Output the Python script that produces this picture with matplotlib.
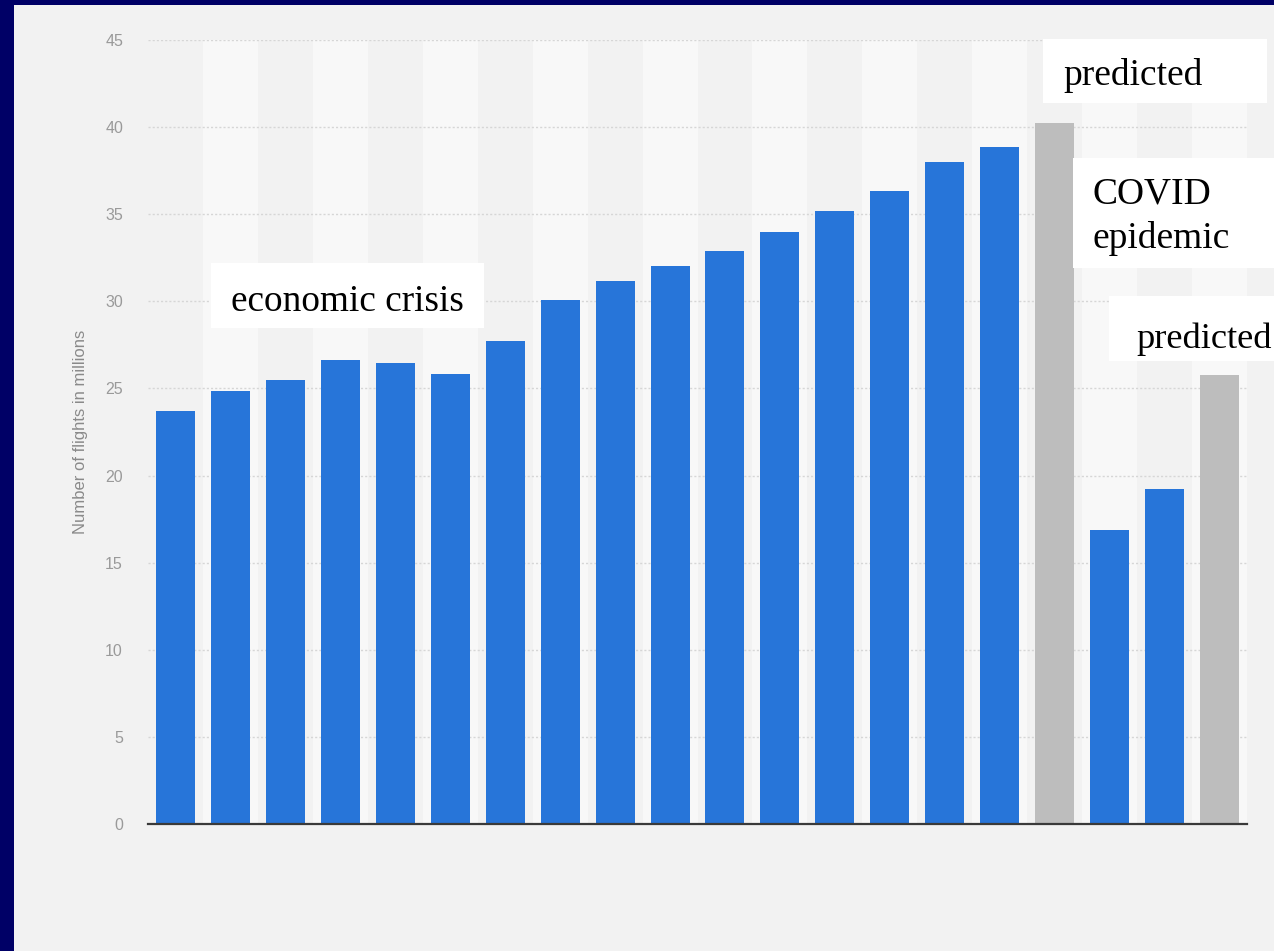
import matplotlib
matplotlib.use("Agg")
import matplotlib.pyplot as plt
from matplotlib.patches import Rectangle

# ---- data ----
categories = ["2004", "2005", "2006", "2007", "2008", "2009", "2010", "2011",
              "2012", "2013", "2014", "2015", "2016", "2017", "2018", "2019",
              "2020*", "2020", "2021", "2022*"]
flights = [23.7, 24.87, 25.5, 26.65, 26.45, 25.85, 27.75, 30.1,
           31.15, 32.0, 32.9, 33.98, 35.17, 36.34, 38.0, 38.88,
           40.22, 16.88, 19.25, 25.75]
predicted = [False] * 16 + [True, False, False, True]
y_ticks = [0, 5, 10, 15, 20, 25, 30, 35, 40, 45]
y_label = "Number of flights in millions"

W, H = 1274, 951
BG = "#f2f2f2"
BLUE = "#2775d9"
GRAY = "#bdbdbd"
NAVY = "#000066"

fig = plt.figure(figsize=(W / 100, H / 100), dpi=100, facecolor=BG)

def fx(px):
    return px / W

def fy(py):
    return 1 - py / H

# navy frame on top and left
fig.patches.append(Rectangle((0, fy(5)), 1, 5 / H, transform=fig.transFigure,
                             facecolor=NAVY, edgecolor="none", zorder=0))
fig.patches.append(Rectangle((0, 0), fx(14), 1, transform=fig.transFigure,
                             facecolor=NAVY, edgecolor="none", zorder=0))

ax = fig.add_axes([fx(148), fy(824), fx(1247) - fx(148), fy(40) - fy(824)])
ax.set_facecolor(BG)

x = list(range(len(categories)))
# alternating column bands
for i in x:
    if i % 2 == 1:
        ax.axvspan(i - 0.5, i + 0.5, color="#f8f8f8", zorder=0, lw=0)

colors = [GRAY if p else BLUE for p in predicted]
ax.bar(x, flights, width=0.71, color=colors, zorder=3, linewidth=0)

ax.set_xlim(-0.5, len(categories) - 0.5)
ax.set_ylim(0, 45)
ax.set_yticks(y_ticks)
ax.set_yticklabels([str(t) for t in y_ticks])
ax.set_xticks(x)
ax.set_xticklabels([])
ax.tick_params(axis="x", length=0)
ax.tick_params(axis="y", length=0, pad=18, labelsize=11.5, labelcolor="#9a9a9a")
for lab in ax.get_yticklabels():
    lab.set_fontfamily("Liberation Sans")

ax.yaxis.grid(True, linestyle=(0, (1.5, 1.5)), color="#d6d6d6", lw=1, zorder=1)
ax.set_axisbelow(False)
for gl in ax.yaxis.get_gridlines():
    gl.set_zorder(1)
for s in ["top", "right", "left"]:
    ax.spines[s].set_visible(False)
ax.spines["bottom"].set_color("#3a3a3a")
ax.spines["bottom"].set_linewidth(1.6)
ax.spines["bottom"].set_zorder(4)

fig.text(fx(81), fy(432), y_label, rotation=90, ha="center", va="center",
         fontsize=12, color="#8a8a8a", family="Liberation Sans")

# annotation boxes (pixel geometry): box corners, then text lines (x, baseline, text, size)
boxes = [
    ((211, 263, 484, 328), [(231, 311, "economic crisis", 26.8)]),
    ((1043, 39, 1267, 103), [(1063, 85, "predicted", 27)]),
    ((1073, 158, 1290, 268), [(1092, 204, "COVID", 27), (1092, 248, "epidemic", 27)]),
    ((1109, 296, 1290, 361), [(1136, 348, "predicted", 26.2)]),
]
for (x0, y0, x1, y1), lines in boxes:
    fig.patches.append(Rectangle((fx(x0), fy(y1)), fx(x1) - fx(x0), fy(y0) - fy(y1),
                                 transform=fig.transFigure, facecolor="white",
                                 edgecolor="none", zorder=10))
    for tx, ty, txt, fs in lines:
        fig.text(fx(tx), fy(ty), txt, ha="left", va="baseline", fontsize=fs,
                 family="Liberation Serif", color="black", zorder=11)

fig.savefig("out.png", dpi=100, facecolor=BG)
